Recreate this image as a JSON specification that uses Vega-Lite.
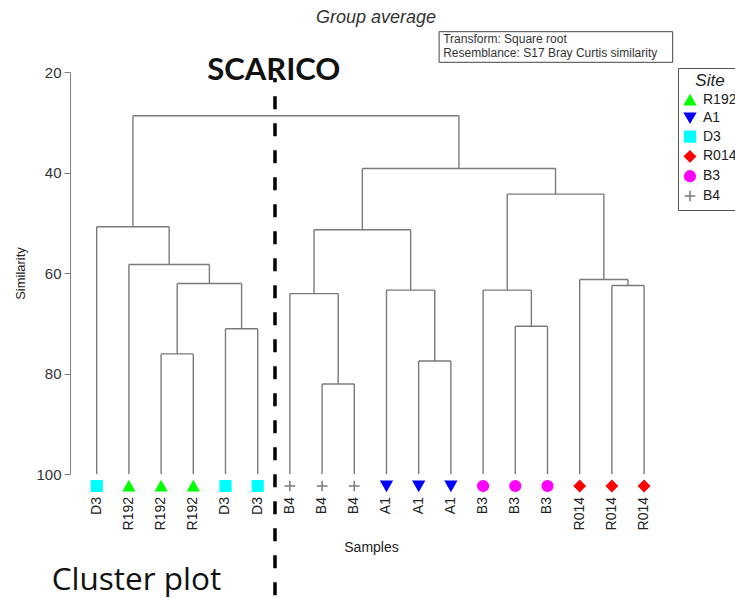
{
  "$schema": "https://vega.github.io/schema/vega-lite/v6.json",
  "width": 602,
  "height": 402,
  "autosize": {"type": "none"},
  "padding": {"left": 70, "top": 72, "right": 63, "bottom": 124},
  "background": "white",
  "config": {"font": "Liberation Sans", "view": {"stroke": null}},
  "datasets": {
    "segments": [
      {"a": 0, "b": 0, "s1": 100, "s2": 50.8},
      {"a": 1, "b": 1, "s1": 100, "s2": 58.3},
      {"a": 2, "b": 2, "s1": 100, "s2": 76.1},
      {"a": 3, "b": 3, "s1": 100, "s2": 76.1},
      {"a": 4, "b": 4, "s1": 100, "s2": 71.1},
      {"a": 5, "b": 5, "s1": 100, "s2": 71.1},
      {"a": 6, "b": 6, "s1": 100, "s2": 64.1},
      {"a": 7, "b": 7, "s1": 100, "s2": 82.1},
      {"a": 8, "b": 8, "s1": 100, "s2": 82.1},
      {"a": 9, "b": 9, "s1": 100, "s2": 63.4},
      {"a": 10, "b": 10, "s1": 100, "s2": 77.5},
      {"a": 11, "b": 11, "s1": 100, "s2": 77.5},
      {"a": 12, "b": 12, "s1": 100, "s2": 63.4},
      {"a": 13, "b": 13, "s1": 100, "s2": 70.6},
      {"a": 14, "b": 14, "s1": 100, "s2": 70.6},
      {"a": 15, "b": 15, "s1": 100, "s2": 61.3},
      {"a": 16, "b": 16, "s1": 100, "s2": 62.5},
      {"a": 17, "b": 17, "s1": 100, "s2": 62.5},
      {"a": 2.5, "b": 2.5, "s1": 76.1, "s2": 62.1},
      {"a": 4.5, "b": 4.5, "s1": 71.1, "s2": 62.1},
      {"a": 3.5, "b": 3.5, "s1": 62.1, "s2": 58.3},
      {"a": 2.25, "b": 2.25, "s1": 58.3, "s2": 50.8},
      {"a": 1.125, "b": 1.125, "s1": 50.8, "s2": 28.7},
      {"a": 7.5, "b": 7.5, "s1": 82.1, "s2": 64.1},
      {"a": 6.75, "b": 6.75, "s1": 64.1, "s2": 51.4},
      {"a": 10.5, "b": 10.5, "s1": 77.5, "s2": 63.4},
      {"a": 9.75, "b": 9.75, "s1": 63.4, "s2": 51.4},
      {"a": 8.25, "b": 8.25, "s1": 51.4, "s2": 39.2},
      {"a": 13.5, "b": 13.5, "s1": 70.6, "s2": 63.4},
      {"a": 12.75, "b": 12.75, "s1": 63.4, "s2": 44.3},
      {"a": 16.5, "b": 16.5, "s1": 62.5, "s2": 61.3},
      {"a": 15.75, "b": 15.75, "s1": 61.3, "s2": 44.3},
      {"a": 14.25, "b": 14.25, "s1": 44.3, "s2": 39.2},
      {"a": 11.25, "b": 11.25, "s1": 39.2, "s2": 28.7},
      {"a": 2, "b": 3, "s1": 76.1, "s2": 76.1},
      {"a": 4, "b": 5, "s1": 71.1, "s2": 71.1},
      {"a": 2.5, "b": 4.5, "s1": 62.1, "s2": 62.1},
      {"a": 1, "b": 3.5, "s1": 58.3, "s2": 58.3},
      {"a": 0, "b": 2.25, "s1": 50.8, "s2": 50.8},
      {"a": 1.125, "b": 11.25, "s1": 28.7, "s2": 28.7},
      {"a": 7, "b": 8, "s1": 82.1, "s2": 82.1},
      {"a": 6, "b": 7.5, "s1": 64.1, "s2": 64.1},
      {"a": 10, "b": 11, "s1": 77.5, "s2": 77.5},
      {"a": 9, "b": 10.5, "s1": 63.4, "s2": 63.4},
      {"a": 6.75, "b": 9.75, "s1": 51.4, "s2": 51.4},
      {"a": 8.25, "b": 14.25, "s1": 39.2, "s2": 39.2},
      {"a": 13, "b": 14, "s1": 70.6, "s2": 70.6},
      {"a": 12, "b": 13.5, "s1": 63.4, "s2": 63.4},
      {"a": 16, "b": 17, "s1": 62.5, "s2": 62.5},
      {"a": 15, "b": 16.5, "s1": 61.3, "s2": 61.3},
      {"a": 12.75, "b": 15.75, "s1": 44.3, "s2": 44.3}
    ],
    "leaves": [
      {"i": 0, "site": "D3"},
      {"i": 1, "site": "R192"},
      {"i": 2, "site": "R192"},
      {"i": 3, "site": "R192"},
      {"i": 4, "site": "D3"},
      {"i": 5, "site": "D3"},
      {"i": 6, "site": "B4"},
      {"i": 7, "site": "B4"},
      {"i": 8, "site": "B4"},
      {"i": 9, "site": "A1"},
      {"i": 10, "site": "A1"},
      {"i": 11, "site": "A1"},
      {"i": 12, "site": "B3"},
      {"i": 13, "site": "B3"},
      {"i": 14, "site": "B3"},
      {"i": 15, "site": "R014"},
      {"i": 16, "site": "R014"},
      {"i": 17, "site": "R014"}
    ],
    "one": [{}]
  },
  "layer": [
    {
      "data": {"name": "segments"},
      "mark": {"type": "rule", "color": "#7a7a7a", "strokeWidth": 1.4},
      "encoding": {
        "x": {"field": "a", "type": "quantitative", "scale": {"domain": [-0.829, 17.867], "nice": false, "zero": false},
          "axis": {"title": "Samples", "labels": false, "ticks": false, "domain": false, "grid": false, "titleFontSize": 14, "titleFontWeight": "normal", "titleColor": "#222", "titleY": 73, "titleBaseline": "middle"}},
        "x2": {"field": "b"},
        "y": {"field": "s1", "type": "quantitative", "scale": {"domain": [20, 100], "nice": false, "zero": false, "reverse": true},
          "axis": {"title": "Similarity", "values": [20, 40, 60, 80, 100], "grid": false, "domainColor": "#808080", "tickColor": "#808080", "tickSize": 6, "labelFontSize": 15, "labelColor": "#333", "labelPadding": 3, "titleFontSize": 13, "titleFontWeight": "normal", "titleColor": "#222", "titleX": -50, "titleY": 201, "titleBaseline": "middle", "titleAngle": 270}},
        "y2": {"field": "s2"}
      }
    },
    {
      "data": {"name": "leaves"},
      "mark": {"type": "point", "filled": true, "size": 115, "strokeWidth": 1.5, "opacity": 1, "yOffset": 12},
      "encoding": {
        "x": {"field": "i", "type": "quantitative"},
        "y": {"datum": 100},
        "color": {"field": "site", "type": "nominal",
          "scale": {"domain": ["R192", "A1", "D3", "R014", "B3", "B4"], "range": ["#00ff00", "#0000ff", "#00ffff", "#ff0000", "#ff00ff", "#7a7a7a"]},
          "legend": {"title": "Site", "orient": "none", "legendX": 608, "legendY": -4, "padding": 5, "strokeColor": "#555", "fillColor": "white", "titleFontSize": 17, "titleFontStyle": "italic", "titleFontWeight": "normal", "titleColor": "#222", "titleAnchor": "middle", "titlePadding": 3, "labelFontSize": 14, "labelColor": "#222", "labelOffset": 6, "symbolSize": 115, "rowPadding": 1.8, "symbolStrokeWidth": 1.5, "symbolOpacity": 1}},
        "stroke": {"field": "site", "type": "nominal",
          "scale": {"domain": ["R192", "A1", "D3", "R014", "B3", "B4"], "range": ["#00ff00", "#0000ff", "#00ffff", "#ff0000", "#ff00ff", "#7a7a7a"]}},
        "shape": {"field": "site", "type": "nominal",
          "scale": {"domain": ["R192", "A1", "D3", "R014", "B3", "B4"], "range": ["triangle-up", "triangle-down", "square", "diamond", "circle", "M-1,0H1M0,-1V1"]}}
      }
    },
    {
      "data": {"name": "leaves"},
      "mark": {"type": "text", "angle": 270, "align": "right", "baseline": "middle", "fontSize": 14, "color": "#222", "yOffset": 23},
      "encoding": {
        "x": {"field": "i", "type": "quantitative"},
        "y": {"datum": 100},
        "text": {"field": "site"}
      }
    },
    {
      "data": {"name": "one"},
      "mark": {"type": "rule", "color": "black", "strokeWidth": 3.5, "strokeDash": [13, 14], "strokeDashOffset": 8.7},
      "encoding": {
        "x": {"datum": 5.537},
        "y": {"datum": 21.19},
        "y2": {"datum": 125.1}
      }
    },
    {
      "data": {"name": "one"},
      "mark": {"type": "text", "font": "Lato", "fontWeight": "bold", "fontSize": 31, "align": "center", "baseline": "alphabetic", "color": "#111"},
      "encoding": {
        "x": {"datum": 5.5},
        "y": {"datum": 21.6},
        "text": {"value": "SCARICO"}
      }
    },
    {
      "data": {"name": "one"},
      "mark": {"type": "text", "font": "Open Sans", "fontSize": 31.5, "align": "left", "baseline": "alphabetic", "color": "#111"},
      "encoding": {
        "x": {"datum": -1.398},
        "y": {"datum": 123.08},
        "text": {"value": "Cluster plot"}
      }
    },
    {
      "data": {"name": "one"},
      "mark": {"type": "text", "fontSize": 18, "fontStyle": "italic", "align": "center", "baseline": "alphabetic", "color": "#333"},
      "encoding": {
        "x": {"datum": 8.674},
        "y": {"datum": 10.31},
        "text": {"value": "Group average"}
      }
    },
    {
      "data": {"name": "one"},
      "mark": {"type": "rect", "fill": "white", "stroke": "#444", "strokeWidth": 1},
      "encoding": {
        "x": {"datum": 10.634},
        "x2": {"datum": 17.888},
        "y": {"datum": 11.98},
        "y2": {"datum": 18.07}
      }
    },
    {
      "data": {"name": "one"},
      "mark": {"type": "text", "fontSize": 12, "align": "left", "baseline": "alphabetic", "color": "#333", "lineBreak": "\n", "lineHeight": 14.6},
      "encoding": {
        "x": {"datum": 10.76},
        "y": {"datum": 14.17},
        "text": {"value": "Transform: Square root\nResemblance: S17 Bray Curtis similarity"}
      }
    }
  ]
}
